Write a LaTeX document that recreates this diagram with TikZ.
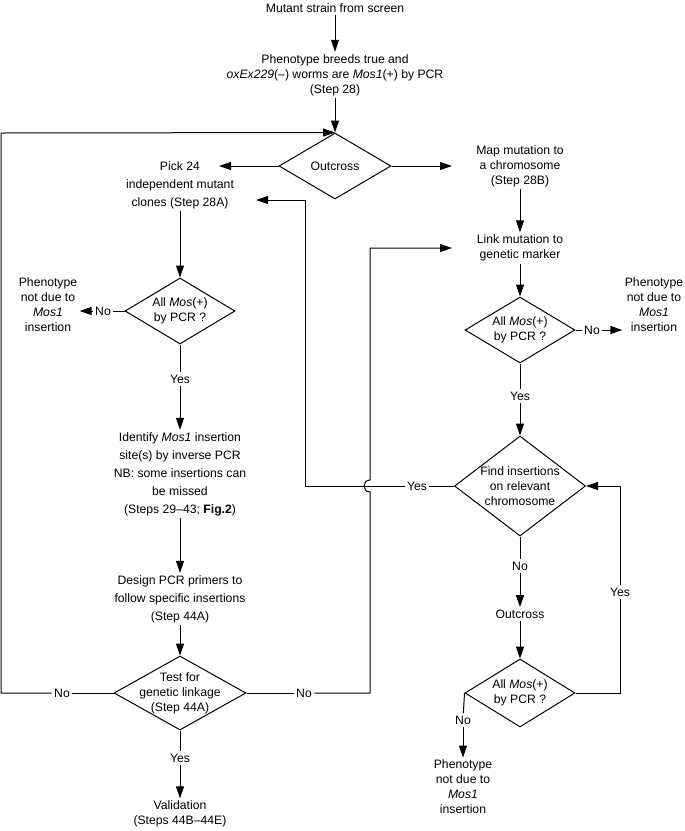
\documentclass[tikz,border=0pt]{standalone}
\usepackage{fontspec}
\setmainfont{Liberation Sans}
\usetikzlibrary{shapes.geometric,arrows.meta}
\tikzset{
  txt/.style={align=center, inner sep=2pt, font=\fontsize{12.2}{15}\selectfont},
  wide/.style={txt, font=\fontsize{12.2}{18}\selectfont},
  dia/.style 2 args={draw, shape=diamond, inner sep=0pt, minimum width=#1, minimum height=#2},
}
\begin{document}
\begin{tikzpicture}[x=1pt, y=-1pt, line width=1pt, >={Triangle[length=12pt,width=8pt]}]
\useasboundingbox (0,0) rectangle (685,831);
% top of the chart
\node[txt] (start) at (335,8) {Mutant strain from screen};
\node[txt] (breed) at (335,75) {Phenotype breeds true and\\\textit{oxEx229}(--) worms are \textit{Mos1}(+) by PCR\\(Step 28)};
\node[dia={112pt}{66pt}, label={[txt]center:Outcross}] (out1) at (335,166) {};
% left branch
\node[wide] (pick) at (180,185) {Pick 24\\independent mutant\\clones (Step 28A)};
\node[dia={110pt}{66pt}, label={[txt]center:All \textit{Mos}(+)\\by PCR ?}] (allL) at (180,311) {};
\node[txt] (noL) at (103,311) {No};
\node[txt] (notL) at (48,305) {Phenotype\\not due to\\\textit{Mos1}\\insertion};
\node[txt] (yesL) at (180,379) {Yes};
\node[wide] (ident) at (180,474) {Identify \textit{Mos1} insertion\\site(s) by inverse PCR\\NB: some insertions can\\be missed\\(Steps 29--43; \textbf{Fig.2})};
\node[wide] (design) at (180,599) {Design PCR primers to\\follow specific insertions\\(Step 44A)};
\node[dia={132pt}{74pt}, label={[txt]center:Test for\\genetic linkage\\(Step 44A)}] (test) at (180,693) {};
\node[txt] (noT1) at (62,693) {No};
\node[txt] (noT2) at (304,693) {No};
\node[txt] (yesT) at (180,758) {Yes};
\node[txt] (valid) at (180,814) {Validation\\(Steps 44B--44E)};
% right branch
\node[txt] (map) at (520,166) {Map mutation to\\a chromosome\\(Step 28B)};
\node[txt] (link) at (520,248) {Link mutation to\\genetic marker};
\node[dia={110pt}{66pt}, label={[txt]center:All \textit{Mos}(+)\\by PCR ?}] (allR) at (520,330) {};
\node[txt] (noR) at (592,330) {No};
\node[txt] (notR) at (654,305) {Phenotype\\not due to\\\textit{Mos1}\\insertion};
\node[txt] (yesR) at (520,396) {Yes};
\node[dia={131pt}{100pt}, label={[txt]center:Find insertions\\on relevant\\chromosome}] (find) at (520,486) {};
\node[txt] (yesF) at (417,486) {Yes};
\node[txt] (noF) at (520,566) {No};
\node[txt] (out2) at (520,614) {Outcross};
\node[dia={110pt}{68pt}, label={[txt]center:All \textit{Mos}(+)\\by PCR ?}] (allB) at (520,693) {};
\node[txt] (noB) at (463,720) {No};
\node[txt] (notB) at (463,787) {Phenotype\\not due to\\\textit{Mos1}\\insertion};
\node[txt] (yesB) at (620,592) {Yes};
% loose ends of the loops
\coordinate (pickin) at (219,166);
\coordinate (mapin) at (452,166);
\coordinate (pickback) at (256,200);
\coordinate (yloop) at (305,486);
\coordinate (lft) at (1,133);
\coordinate (hopbot) at (370,492);
\coordinate (hoptop) at (370,480);
\coordinate (linkin) at (452,248);
% arrows
\draw[->] (start) -- (breed);
\draw[->] (breed) -- (out1.north);
\draw[->] (out1.west) -- (pickin);
\draw[->] (out1.east) -- (mapin);
\draw[->] (pick) -- (allL.north);
\draw (allL.west) -- (noL);
\draw[->] (noL) -- (noL -| notL.east);
\draw (allL.south) -- (yesL);
\draw[->] (yesL) -- (ident);
\draw[->] (ident) -- (design);
\draw[->] (design) -- (test.north);
\draw (test.south) -- (yesT);
\draw[->] (yesT) -- (valid);
\draw (test.west) -- (noT1);
\draw[->] (noT1) -| (lft) -- (out1.north);
\draw (test.east) -- (noT2);
\draw[->] (noT2) -| (hopbot) .. controls +(-8,0) and +(-8,0) .. (hoptop) |- (linkin);
\draw[->] (map) -- (link);
\draw[->] (link) -- (allR.north);
\draw (allR.east) -- (noR);
\draw[->] (noR) -- (noR -| notR.west);
\draw (allR.south) -- (yesR);
\draw[->] (yesR) -- (find.north);
\draw (find.west) -- (yesF);
\draw[->] (yesF) -- (yloop) |- (pickback);
\draw (find.south) -- (noF);
\draw[->] (noF) -- (out2);
\draw[->] (out2) -- (allB.north);
\draw (allB.west) -- (noB);
\draw[->] (noB) -- (notB);
\draw (allB.east) -| (yesB);
\draw[->] (yesB) |- (find.east);
\end{tikzpicture}
\end{document}
